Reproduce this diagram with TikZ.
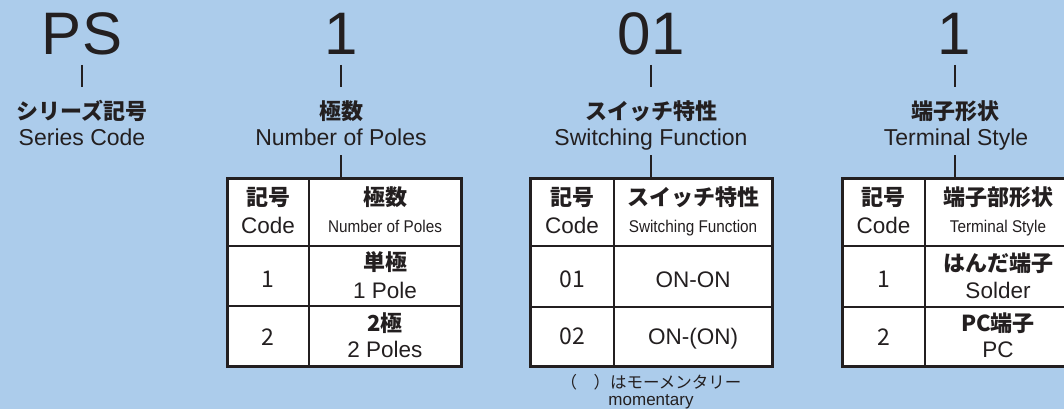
\documentclass[tikz,border=0pt]{standalone}
\usepackage{fontspec}
\setmainfont{Liberation Sans}
\newfontfamily\jpfont{Noto Sans CJK JP}
\newfontfamily\narrowfont{Liberation Sans}[FakeStretch=0.9]
\definecolor{bgblue}{RGB}{172,204,235}
\definecolor{ink}{RGB}{35,31,32}

\begin{document}
\begin{tikzpicture}[x=1pt,y=-1pt,
  every node/.style={inner sep=0pt,anchor=base,text=ink},
  codetxt/.style={font=\fontsize{60}{60}\selectfont},
  jlabel/.style={font=\jpfont\bfseries\fontsize{22}{22}\selectfont},
  elabel/.style={font=\fontsize{23}{23}\selectfont},
  tick/.style={draw=ink,line width=2pt},
  tbl/.style={draw=ink,fill=white,line width=3pt,anchor=center},
  rule/.style={draw=ink,line width=1.5pt},
  headjp/.style={font=\jpfont\bfseries\fontsize{22}{22}\selectfont},
  celltxt/.style={font=\fontsize{22.5}{22.5}\selectfont},
  narrowtxt/.style={font=\narrowfont\fontsize{17}{17}\selectfont},
  numtxt/.style={font=\jpfont\fontsize{23}{23}\selectfont},
  celljp/.style={font=\jpfont\bfseries\fontsize{22}{22}\selectfont},
  notetxt/.style={font=\jpfont\fontsize{16.5}{16.5}\selectfont}]

  \useasboundingbox (0,0) rectangle (1064,409);
  \clip (0,0) rectangle (1064,409);
  \fill[bgblue] (0,0) rectangle (1064,409);

  % series code
  \node[codetxt] (code1) at (82,55) {PS};
  \node[jlabel] (jl1) at (82,119) {シリーズ記号};
  \node[elabel] (el1) at (82,145) {Series Code};
  \draw[tick] ([yshift=-10pt]code1.base) -- ([yshift=32pt]jl1.base);

  % number of poles
  \node[codetxt] (code2) at (341,55) {1};
  \node[jlabel] (jl2) at (341,119) {極数};
  \node[elabel] (el2) at (341,145) {Number of Poles};
  \draw[tick] ([yshift=-10pt]code2.base) -- ([yshift=32pt]jl2.base);
  \node[tbl,minimum width=234pt,minimum height=188pt] (tbl1) at (344,272) {};
  \draw[tick] ([yshift=-10pt]el2.base) -- (el2.base |- tbl1.north);
  \draw[rule] (309,178) -- (309,366) (227,246) -- (461,246) (227,306) -- (461,306);
  \node[headjp] (t1a) at (268,205) {記号};
  \node[celltxt] (t1b) at (268,233) {Code};
  \node[headjp] (t1c) at (385,205) {極数};
  \node[narrowtxt] (t1d) at (385,232) {Number of Poles};
  \node[numtxt] (t1e) at (268,287) {1};
  \node[celljp] (t1f) at (385,270) {単極};
  \node[celltxt] (t1g) at (385,298) {1 Pole};
  \node[numtxt] (t1h) at (268,345) {2};
  \node[celljp] (t1i) at (385,331) {2極};
  \node[celltxt] (t1j) at (385,357) {2 Poles};

  % switching function
  \node[codetxt] (code3) at (651,55) {01};
  \node[jlabel] (jl3) at (651,119) {スイッチ特性};
  \node[elabel] (el3) at (651,145) {Switching Function};
  \draw[tick] ([yshift=-10pt]code3.base) -- ([yshift=32pt]jl3.base);
  \node[tbl,minimum width=242pt,minimum height=188pt] (tbl2) at (651,272) {};
  \draw[tick] ([yshift=-10pt]el3.base) -- (el3.base |- tbl2.north);
  \draw[rule] (614,178) -- (614,366) (530,246) -- (772,246) (530,307) -- (772,307);
  \node[headjp] (t2a) at (572,205) {記号};
  \node[celltxt] (t2b) at (572,233) {Code};
  \node[headjp] (t2c) at (693,205) {スイッチ特性};
  \node[narrowtxt] (t2d) at (693,232) {Switching Function};
  \node[numtxt] (t2e) at (572,287) {01};
  \node[celltxt] (t2f) at (693,287) {ON-ON};
  \node[numtxt] (t2g) at (572,344) {02};
  \node[celltxt] (t2h) at (693,344) {ON-(ON)};
  \node[notetxt] (note1) at (651,388) {（　）はモーメンタリー};
  \node[font=\fontsize{17}{17}\selectfont] (note2) at (651,405) {momentary};

  % terminal style
  \node[codetxt] (code4) at (954,55) {1};
  \node[jlabel] (jl4) at (955,119) {端子形状};
  \node[elabel] (el4) at (956,145) {Terminal Style};
  \draw[tick] ([yshift=-10pt]jl4.base |- code4.base) -- ([yshift=32pt]jl4.base);
  \node[tbl,minimum width=229pt,minimum height=188pt] (tbl3) at (956.5,272) {};
  \draw[tick] ([yshift=-10pt]jl4.base |- el4.base) -- (jl4.base |- tbl3.north);
  \draw[rule] (925,178) -- (925,366) (842,246) -- (1071,246) (842,307) -- (1071,307);
  \node[headjp] (t3a) at (883.5,205) {記号};
  \node[celltxt] (t3b) at (883.5,233) {Code};
  \node[headjp] (t3c) at (998,205) {端子部形状};
  \node[narrowtxt] (t3d) at (998,232) {Terminal Style};
  \node[numtxt] (t3e) at (883.5,287) {1};
  \node[celljp] (t3f) at (998,271) {はんだ端子};
  \node[celltxt] (t3g) at (998,298) {Solder};
  \node[numtxt] (t3h) at (883.5,345) {2};
  \node[celljp] (t3i) at (998,331) {PC端子};
  \node[celltxt] (t3j) at (998,357) {PC};
\end{tikzpicture}
\end{document}
